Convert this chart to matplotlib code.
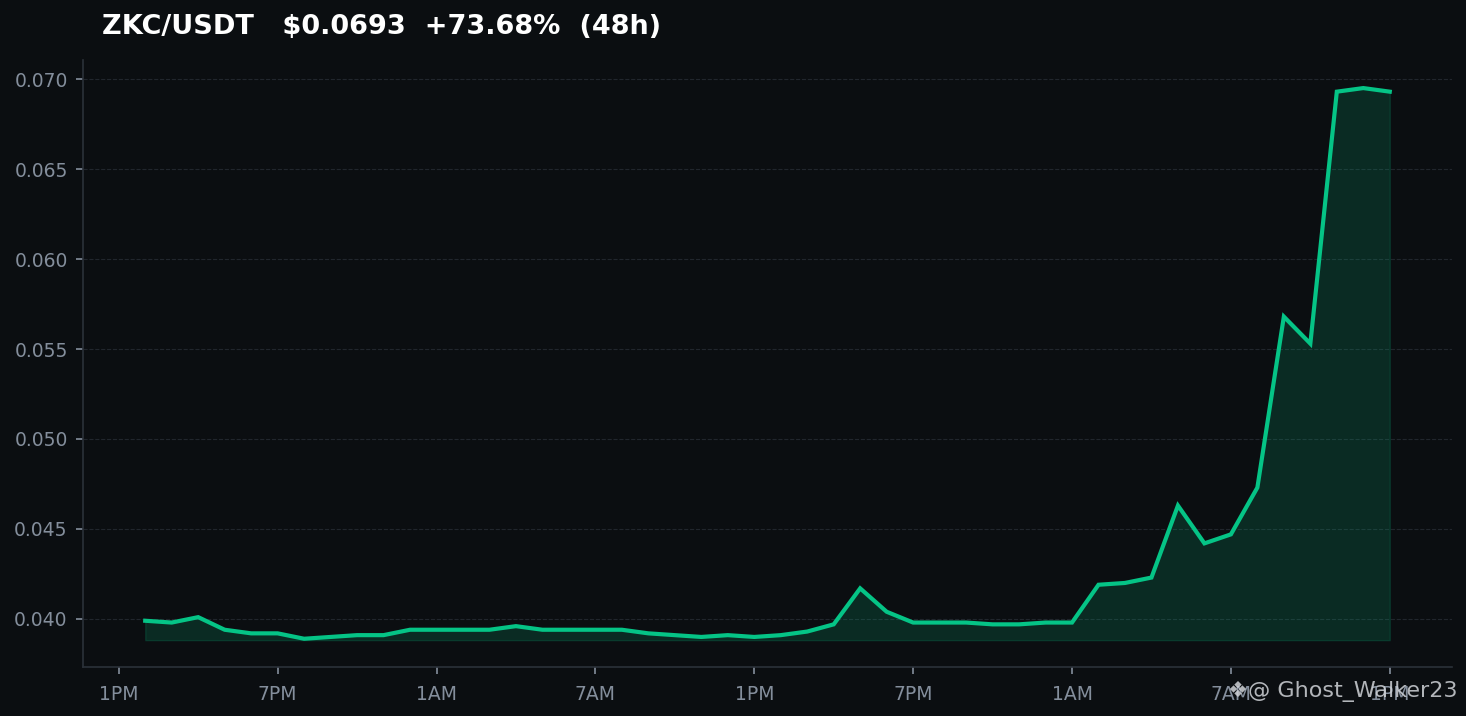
import numpy as np
import matplotlib
matplotlib.use("Agg")
import matplotlib.pyplot as plt

# hourly closes, 2PM day 1 -> 1PM day 3 (48 points)
hours = list(range(48))
price = [0.0399, 0.0398, 0.0401, 0.0394, 0.0392, 0.0392, 0.0389, 0.0390,
         0.0391, 0.0391, 0.0394, 0.0394, 0.0394, 0.0394, 0.0396, 0.0394,
         0.0394, 0.0394, 0.0394, 0.0392, 0.0391, 0.0390, 0.0391, 0.0390,
         0.0391, 0.0393, 0.0397, 0.0417, 0.0404, 0.0398, 0.0398, 0.0398,
         0.0397, 0.0397, 0.0398, 0.0398, 0.0419, 0.0420, 0.0423, 0.0463,
         0.0442, 0.0447, 0.0473, 0.0568, 0.0553, 0.0693, 0.0695, 0.0693]
tick_pos = [-1, 5, 11, 17, 23, 29, 35, 41, 47]
tick_lab = ["1PM", "7PM", "1AM", "7AM", "1PM", "7PM", "1AM", "7AM", "1PM"]
title = "ZKC/USDT   $0.0693  +73.68%  (48h)"

bg = "#0b0e11"
green = "#05c486"

fig = plt.figure(figsize=(14.66, 7.16), dpi=100, facecolor=bg)
ax = fig.add_axes([83/1466, (716-667)/716, (1452-83)/1466, (667-60)/716])
ax.set_facecolor(bg)

base = min(price) * 0.998
ax.fill_between(hours, price, base, color=green, alpha=0.16, linewidth=1)
ax.plot(hours, price, color=green, linewidth=3, solid_joinstyle="miter")

ax.set_xticks(tick_pos)
ax.set_xticklabels(tick_lab)
ax.set_xlim(-2.35, 49.35)
ax.set_yticks([0.040, 0.045, 0.050, 0.055, 0.060, 0.065, 0.070])
ax.yaxis.set_major_formatter(matplotlib.ticker.FormatStrFormatter("%.3f"))
ax.set_ylim(0.03733, 0.07106)

ax.grid(axis="y", color="#2b3139", linestyle="--", linewidth=0.8, alpha=0.7)
ax.set_axisbelow(True)
for s in ["top", "right"]:
    ax.spines[s].set_visible(False)
for s in ["left", "bottom"]:
    ax.spines[s].set_color("#2b3139")
    ax.spines[s].set_linewidth(1.2)
ax.tick_params(colors="#848e9c", labelsize=13.5, length=5, width=1.2, pad=8)
ax.tick_params(axis="y", pad=6)

fig.text(102/1466, 1 - 27/716, title, color="white", fontsize=19.5,
         fontweight="bold", va="center", ha="left")

# watermark
fig.text(1458/1466, 1 - 691/716, "\u2756@ Ghost_Walker23", color="#d0d3d8",
         fontsize=16, alpha=0.85, va="center", ha="right")

fig.savefig("out.png", dpi=100, facecolor=bg)
